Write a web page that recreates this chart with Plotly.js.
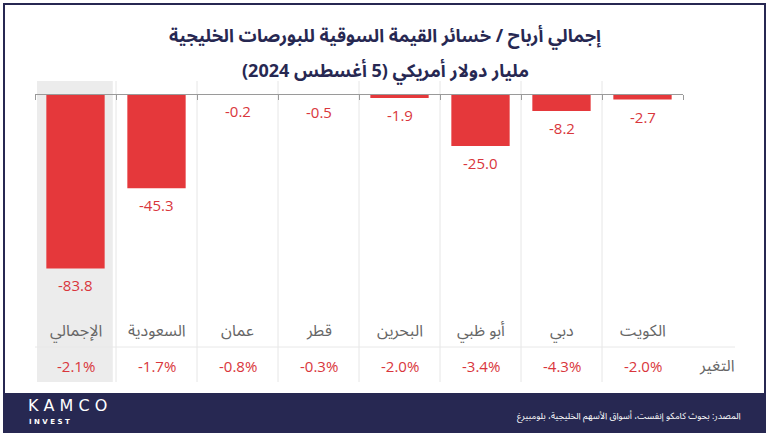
<!DOCTYPE html>
<html>
<head>
<meta charset="utf-8">
<script src="https://cdn.plot.ly/plotly-3.0.1.min.js"></script>
<style>
  html, body { margin: 0; padding: 0; background: #ffffff; }
  #chart { width: 770px; height: 437px; }
</style>
</head>
<body>
<div id="chart"></div>
<script>
// ---- data ----
const categories = ["الإجمالي", "السعودية", "عمان", "قطر", "البحرين", "أبو ظبي", "دبي", "الكويت"];
const values = [-83.8, -45.3, -0.2, -0.5, -1.9, -25.0, -8.2, -2.7];
const valueLabels = ["-83.8", "-45.3", "-0.2", "-0.5", "-1.9", "-25.0", "-8.2", "-2.7"];
const changeLabels = ["-2.1%", "-1.7%", "-0.8%", "-0.3%", "-2.0%", "-3.4%", "-4.3%", "-2.0%"];
const changeTitle = "التغير";
const titleLine1 = "إجمالي أرباح / خسائر القيمة السوقية للبورصات الخليجية";
const titleLine2 = "مليار دولار أمريكي (5 أغسطس 2024)";
const sourceText = "المصدر: بحوث كامكو إنفست، أسواق الأسهم الخليجية، بلومبيرغ";
const logoTop = "K A M C O";
const logoBottom = "I N V E S T";

// ---- layout geometry (pixels) ----
const W = 770, H = 437;
const L = 35, R = 683, T = 81, B = 382;
const pw = R - L, ph = B - T;
const px = x => (x - L) / pw;
const py = y => (B - y) / ph;

const navy = "#272852";
const red = "#e5383b";
const redText = "#d9363c";
const gray = "#666666";
const arFont = "'Noto Sans Arabic', 'Noto Sans', 'DejaVu Sans', sans-serif";
const numFont = "'Open Sans', 'Noto Sans', sans-serif";

const trace = {
  type: "bar",
  x: categories,
  y: values,
  marker: { color: red },
  width: 0.72,
  hoverinfo: "x+y"
};

const shapes = [];
// highlight for the total column
shapes.push({ type: "rect", xref: "x", yref: "paper", x0: -0.475, x1: 0.46, y0: 0, y1: 1,
  fillcolor: "#ececec", line: { width: 0 }, layer: "below" });
// column separators
for (let i = 1; i < categories.length; i++) {
  shapes.push({ type: "line", xref: "x", yref: "paper", x0: i - 0.5, x1: i - 0.5, y0: 0, y1: 1,
    line: { color: "#e6e6e6", width: 1 }, layer: "below" });
}
// separator between labels and change row
shapes.push({ type: "line", xref: "paper", yref: "paper", x0: 0, x1: px(735), y0: py(347), y1: py(347),
  line: { color: "#e8e8e8", width: 1 }, layer: "below" });
// outer frame
shapes.push({ type: "rect", xref: "paper", yref: "paper", x0: px(4), x1: px(765), y0: py(394), y1: py(4),
  line: { color: navy, width: 2 }, fillcolor: "rgba(0,0,0,0)" });
// footer band
shapes.push({ type: "rect", xref: "paper", yref: "paper", x0: px(3), x1: px(766), y0: py(433), y1: py(394),
  line: { width: 0 }, fillcolor: navy });

const annotations = [];
categories.forEach((c, i) => {
  // value label below each bar
  annotations.push({ x: c, y: values[i], xref: "x", yref: "y", text: valueLabels[i], showarrow: false,
    font: { family: numFont, size: 15, color: redText }, xanchor: "center", yanchor: "middle", yshift: -17 });
  annotations.push({ x: c, y: py(331), xref: "x", yref: "paper", text: c, showarrow: false,
    font: { family: arFont, size: 16, color: gray }, xanchor: "center", yanchor: "middle" });
  annotations.push({ x: c, y: py(366), xref: "x", yref: "paper", text: changeLabels[i], showarrow: false,
    font: { family: numFont, size: 15, color: redText }, xanchor: "center", yanchor: "middle" });
});
annotations.push({ x: px(717), y: py(366), xref: "paper", yref: "paper", text: changeTitle, showarrow: false,
  font: { family: arFont, size: 16, color: gray }, xanchor: "center", yanchor: "middle" });
// second title line
annotations.push({ x: px(385), y: py(71), xref: "paper", yref: "paper", text: titleLine2, showarrow: false,
  font: { family: arFont, size: 18, color: navy, weight: 700 }, xanchor: "center", yanchor: "middle" });
// footer texts
annotations.push({ x: px(26), y: py(405.5), xref: "paper", yref: "paper", text: logoTop, showarrow: false,
  font: { family: "'DejaVu Sans', sans-serif", size: 16, color: "#ffffff" }, xanchor: "left", yanchor: "middle" });
annotations.push({ x: px(27), y: py(422), xref: "paper", yref: "paper", text: "<b>" + logoBottom + "</b>", showarrow: false,
  font: { family: "'DejaVu Sans', sans-serif", size: 7, color: "#ffffff" }, xanchor: "left", yanchor: "middle" });
annotations.push({ x: px(743), y: py(416), xref: "paper", yref: "paper", text: sourceText, showarrow: false,
  font: { family: arFont, size: 9, color: "#ffffff" }, xanchor: "right", yanchor: "middle" });

const layout = {
  width: W, height: H,
  margin: { l: L, r: W - R, t: T, b: H - B, pad: 0 },
  paper_bgcolor: "#ffffff",
  plot_bgcolor: "rgba(0,0,0,0)",
  showlegend: false,
  title: {
    text: titleLine1,
    xref: "container", x: 0.5, xanchor: "center",
    yref: "container", y: 1 - 36 / H, yanchor: "middle",
    font: { family: arFont, size: 18, color: navy, weight: 700 }
  },
  xaxis: {
    type: "category",
    range: [-0.5, categories.length - 0.5],
    anchor: "free",
    position: py(94),
    showline: true, linecolor: "#9a9a9a", linewidth: 1,
    ticks: "outside", tickson: "boundaries", ticklen: 5, tickcolor: "#9a9a9a", tickwidth: 1,
    showticklabels: false,
    showgrid: false, zeroline: false,
    fixedrange: true
  },
  yaxis: {
    range: [-(B - 94) / 2.081, (94 - T) / 2.081],
    visible: false,
    showgrid: false, zeroline: false,
    fixedrange: true
  },
  shapes: shapes,
  annotations: annotations
};

Plotly.newPlot("chart", [trace], layout, { displayModeBar: false, staticPlot: true });
</script>
</body>
</html>
